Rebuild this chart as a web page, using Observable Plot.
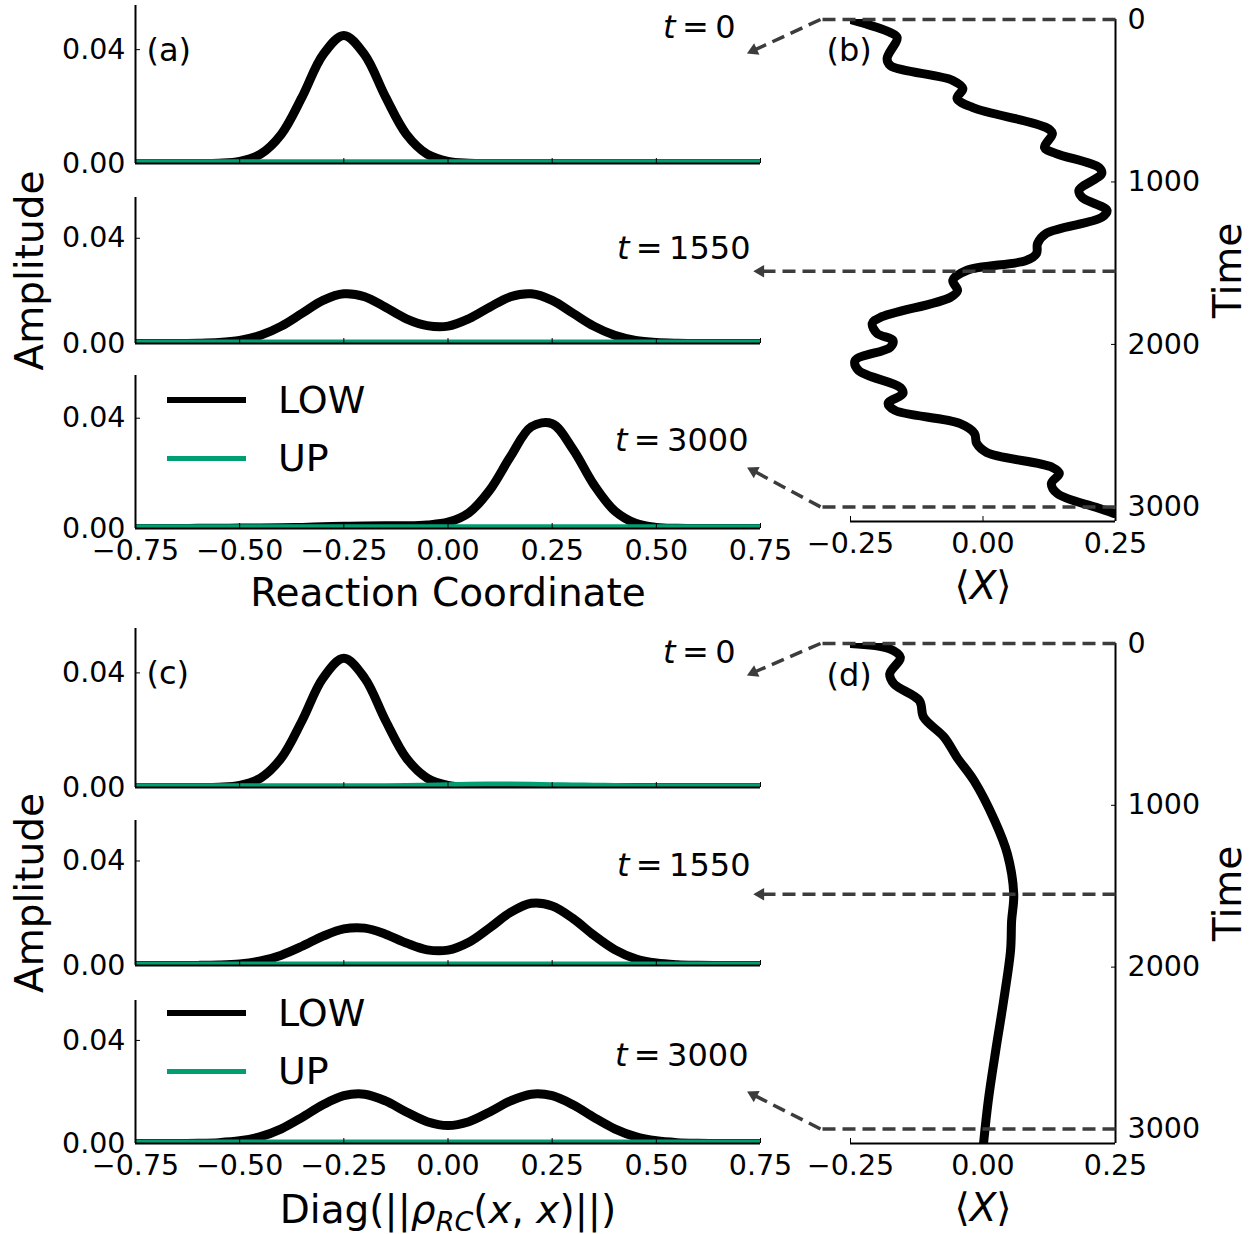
<!DOCTYPE html>
<html>
<head>
<meta charset="utf-8">
<script src="https://cdn.jsdelivr.net/npm/d3@7"></script>
<script src="https://cdn.jsdelivr.net/npm/@observablehq/plot@0.6"></script>
<style>
  body { margin: 0; background: #ffffff; }
  #fig { position: relative; width: 1256px; height: 1234px; overflow: hidden; background: #ffffff; font-family: "DejaVu Sans", sans-serif; }
  .leg-row { position: absolute; left: 167px; height: 50px; display: flex; align-items: center; }
  .leg-sw { display: inline-block; width: 79px; margin-right: 32px; }
  .leg-txt { font-size: 38px; line-height: 50px; color: #000; }
</style>
</head>
<body>
<div id="fig"></div>
<script>
// ---------------- data ----------------
const rc = [-0.75,-0.70,-0.65,-0.60,-0.55,-0.50,-0.45,-0.40,-0.35,-0.30,-0.25,-0.20,-0.15,-0.10,-0.05,0.00,0.05,0.10,0.15,0.20,0.25,0.30,0.35,0.40,0.45,0.50,0.55,0.60,0.65,0.70,0.75];

// panel (a): t = 0, 1550, 3000
const lowA1 = [0,0,0,0.00001,0.00013,0.00076,0.0033,0.0103,0.0234,0.0382,0.0450,0.0382,0.0234,0.0103,0.0033,0.00076,0.00013,0.00001,0,0,0,0,0,0,0,0,0,0,0,0,0];
const upA1  = [0.0006,0.0006,0.0006,0.0006,0.0006,0.0006,0.0006,0.0006,0.0006,0.0006,0.0006,0.0006,0.0006,0.0006,0.0006,0.0006,0.0006,0.0006,0.0006,0.0006,0.0006,0.0006,0.0006,0.0006,0.0006,0.0006,0.0006,0.0006,0.0006,0.0006,0.0006];
const lowA2 = [0,0,0.00002,0.00009,0.00036,0.00117,0.0031,0.0066,0.0115,0.0164,0.0189,0.0178,0.0138,0.0094,0.0068,0.0066,0.0094,0.0138,0.0178,0.0189,0.0164,0.0115,0.0066,0.0031,0.00117,0.00036,0.00009,0.00002,0,0,0];
const upA2  = [0.0006,0.0006,0.0006,0.0006,0.0006,0.0006,0.0006,0.0006,0.0006,0.0006,0.0006,0.0006,0.0006,0.0006,0.0006,0.0006,0.0006,0.0006,0.0006,0.0006,0.0006,0.0006,0.0006,0.0006,0.0006,0.0006,0.0006,0.0006,0.0006,0.0006,0.0006];
const lowA3 = [0,0,0,0.00005,0.0001,0.00015,0.0002,0.0003,0.0004,0.0006,0.0008,0.0009,0.0010,0.0010,0.0013,0.0023,0.0057,0.0139,0.0261,0.0369,0.0380,0.0287,0.0159,0.0064,0.0019,0.0004,0.00007,0.00001,0,0,0];
const upA3  = [0.0006,0.0006,0.0006,0.0006,0.0006,0.0006,0.0006,0.0006,0.0006,0.0006,0.0006,0.0006,0.0006,0.0006,0.0006,0.0006,0.0006,0.0006,0.0006,0.0006,0.0006,0.0006,0.0006,0.0006,0.0006,0.0006,0.0006,0.0006,0.0006,0.0006,0.0006];

// panel (c): t = 0, 1550, 3000
const lowC1 = [0,0,0,0.00001,0.00013,0.00076,0.0033,0.0103,0.0234,0.0382,0.0451,0.0382,0.0234,0.0103,0.0033,0.00076,0.00013,0.00001,0,0,0,0,0,0,0,0,0,0,0,0,0];
const upC1  = [0.0006,0.0006,0.0006,0.0006,0.0006,0.0006,0.0006,0.0006,0.0006,0.0006,0.0006,0.0006,0.0006,0.0007,0.0008,0.0010,0.0011,0.0012,0.0012,0.0011,0.0010,0.0009,0.0008,0.0007,0.0006,0.0006,0.0006,0.0006,0.0006,0.0006,0.0006];
const lowC2 = [0,0,0.00001,0.00004,0.00019,0.00063,0.00174,0.00396,0.00737,0.01122,0.0140,0.0143,0.0120,0.0086,0.0060,0.0059,0.0089,0.0144,0.0203,0.0238,0.0228,0.0180,0.0116,0.0061,0.0026,0.00093,0.00027,0.00006,0.00001,0,0];
const upC2  = [0.0006,0.0006,0.0006,0.0006,0.0006,0.0006,0.0006,0.0006,0.0006,0.0006,0.0006,0.0006,0.0006,0.0006,0.0006,0.0006,0.0006,0.0006,0.0006,0.0006,0.0006,0.0006,0.0006,0.0006,0.0006,0.0006,0.0006,0.0006,0.0006,0.0006,0.0006];
const lowC3 = [0,0,0.00002,0.00009,0.00034,0.00105,0.00268,0.00571,0.01015,0.01503,0.01856,0.01914,0.01653,0.01224,0.00845,0.00695,0.00845,0.01224,0.01653,0.01914,0.01856,0.01503,0.01015,0.00571,0.00268,0.00105,0.00034,0.00009,0.00002,0,0];
const upC3  = [0.0006,0.0006,0.0006,0.0006,0.0006,0.0006,0.0006,0.0006,0.0006,0.0006,0.0006,0.0006,0.0006,0.0006,0.0006,0.0006,0.0006,0.0006,0.0006,0.0006,0.0006,0.0006,0.0006,0.0006,0.0006,0.0006,0.0006,0.0006,0.0006,0.0006,0.0006];

// panel (b): <X> versus time
const bTime = [0,80,111,240,283,375,425,486,542,665,702,788,825,911,948,1052,1095,1175,1218,1317,1378,1440,1483,1545,1606,1668,1711,1834,1871,1932,1975,2018,2098,2160,2265,2302,2363,2406,2486,2548,2609,2665,2757,2794,2855,2917,3003,3040];
const bMean = [-0.250,-0.175,-0.162,-0.181,-0.175,-0.057,-0.038,-0.049,-0.019,0.119,0.131,0.116,0.138,0.219,0.224,0.181,0.187,0.234,0.224,0.119,0.103,0.101,0.082,-0.031,-0.057,-0.048,-0.062,-0.194,-0.209,-0.200,-0.170,-0.175,-0.241,-0.235,-0.156,-0.151,-0.179,-0.166,-0.044,-0.016,-0.012,0.007,0.131,0.144,0.129,0.140,0.213,0.247];

// panel (d): <X> versus time
const dTime = [0,33,85,188,250,353,456,580,704,848,1095,1301,1548,1714,1897,2206,2515,2824,3090];
const dMean = [-0.250,-0.176,-0.156,-0.176,-0.168,-0.120,-0.112,-0.073,-0.049,-0.017,0.022,0.046,0.058,0.054,0.052,0.039,0.024,0.010,0.001];

const snapTimes  = [0, 1550, 3000];
const snapLabels = ["t = 0", "t = 1550", "t = 3000"];
const seriesNames = ["LOW", "UP"];

const ampTicks  = [0, 0.04];
const rcTicks   = [-0.75, -0.50, -0.25, 0, 0.25, 0.50, 0.75];
const timeTicks = [0, 1000, 2000, 3000];
const meanTicks = [-0.25, 0, 0.25];

const rcDomain   = [-0.75, 0.75];
const ampDomain  = [0, 0.0555];
const timeDomain = [0, 3090];
const meanDomain = [-0.25, 0.25];

// ---------------- styles / layout ----------------
const W = 1256, H = 1234;
const seriesColors = ["#000000", "#009E73"];
const dashColor = "#3c3c3c";
const fmt2 = d3.format(".2f");
const fmtInt = d3.format("d");
const svgStyle = {position: "absolute", left: "0px", top: "0px", background: "transparent", overflow: "visible", fontFamily: "DejaVu Sans, sans-serif", color: "black"};

const fig = document.getElementById("fig");

function leftPlot(p) {
  const data = rc.map((x, i) => ({x, low: p.low[i], up: p.up[i]}));
  return Plot.plot({
    width: W, height: H,
    marginLeft: 135, marginRight: W - 760, marginTop: p.top, marginBottom: H - p.bottom,
    x: {domain: rcDomain},
    y: {domain: ampDomain},
    style: svgStyle,
    marks: [
      Plot.line(data, {x: "x", y: "low", stroke: seriesColors[0], strokeWidth: 9, curve: "catmull-rom", clip: true}),
      Plot.line(data, {x: "x", y: "up", stroke: seriesColors[1], strokeWidth: 5, curve: "catmull-rom", clip: true}),
      Plot.ruleX([rcDomain[0]], {stroke: "black", strokeWidth: 2}),
      Plot.ruleY([ampDomain[0]], {stroke: "black", strokeWidth: 2}),
      Plot.axisY(ampTicks, {tickSize: 5, dx: 5, fill: "none", label: null}),
      Plot.axisY(ampTicks, {tickSize: 0, tickPadding: 10, tickFormat: fmt2, fontSize: 28.5, label: null}),
      Plot.axisX(rcTicks, {tickSize: 5, dy: -5, fill: "none", label: null}),
      p.showX ? Plot.axisX(rcTicks, {tickSize: 0, tickPadding: 11, tickFormat: fmt2, fontSize: 28.5, label: null}) : null,
      p.tag ? Plot.text([p.tag], {frameAnchor: "top-left", dx: 11, dy: 45, textAnchor: "start", lineAnchor: "middle", fontSize: 32}) : null,
      p.ylabel ? Plot.text([p.ylabel], {frameAnchor: "left", dx: -105, rotate: -90, textAnchor: "middle", lineAnchor: "middle", fontSize: 39}) : null,
      p.xlabel ? Plot.text([p.xlabel], {frameAnchor: "bottom", dy: p.xlabelDy, textAnchor: "middle", lineAnchor: "middle", fontSize: 39}) : null
    ]
  });
}

function rightPlot(p) {
  const data = p.times.map((t, i) => ({t, m: p.means[i]}));
  const left = 850, right = 1115;
  const kx = (right - left) / (meanDomain[1] - meanDomain[0]);
  const kt = (p.bottom - p.top) / (timeDomain[1] - timeDomain[0]);
  const px2x = (px) => meanDomain[0] + (px - left) / kx;
  const rows = snapTimes.map((t, i) => {
    const g = p.ann[i];
    return {
      t, label: snapLabels[i],
      bend: px2x(g.bendPx), tipX: px2x(g.tipPx), tipT: t + g.tipDy / kt,
      labelX: px2x(g.labelPx), labelT: t + g.labelDy / kt, rot: g.rot
    };
  });
  const dash = {stroke: dashColor, strokeWidth: 3.5, strokeDasharray: "13,7"};
  return Plot.plot({
    width: W, height: H,
    marginLeft: left, marginRight: W - right, marginTop: p.top, marginBottom: H - p.bottom,
    x: {domain: meanDomain},
    y: {domain: timeDomain, reverse: true},
    style: svgStyle,
    marks: [
      Plot.line(data, {x: "m", y: "t", stroke: "black", strokeWidth: 9, curve: "catmull-rom", clip: true}),
      Plot.ruleX([meanDomain[1]], {stroke: "black", strokeWidth: 2}),
      Plot.ruleY([timeDomain[1]], {stroke: "black", strokeWidth: 2}),
      Plot.axisY(timeTicks, {anchor: "right", tickSize: 5, dx: -5, fill: "none", label: null}),
      Plot.axisY(timeTicks, {anchor: "right", tickSize: 0, tickPadding: 12, tickFormat: fmtInt, fontSize: 28.5, label: null}),
      Plot.axisX(meanTicks, {tickSize: 5, dy: -5, fill: "none", label: null}),
      Plot.axisX(meanTicks, {tickSize: 0, tickPadding: 11, tickFormat: fmt2, fontSize: 28.5, label: null}),
      Plot.link(rows, {x1: meanDomain[1], y1: "t", x2: "bend", y2: "t", ...dash}),
      Plot.link(rows.filter((r) => r.bend !== r.tipX), {x1: "bend", y1: "t", x2: "tipX", y2: "tipT", ...dash}),
      Plot.dot(rows, {x: "tipX", y: "tipT", symbol: "triangle2", r: 6, fill: dashColor, rotate: "rot"}),
      Plot.text(rows, {x: "labelX", y: "labelT", text: "label", textAnchor: "end", lineAnchor: "middle", fontSize: 32}),
      Plot.text([p.tag], {frameAnchor: "top-left", dx: -24, dy: p.tagDy, textAnchor: "start", lineAnchor: "middle", fontSize: 32}),
      Plot.text(["Time"], {frameAnchor: "right", dx: 113, rotate: -90, textAnchor: "middle", lineAnchor: "middle", fontSize: 39}),
      Plot.text(["⟨X⟩"], {frameAnchor: "bottom", dy: 65, textAnchor: "middle", lineAnchor: "middle", fontSize: 39})
    ]
  });
}

const leftPanels = [
  {top: 5,    bottom: 163,  low: lowA1, up: upA1, tag: "(a)"},
  {top: 197,  bottom: 343,  low: lowA2, up: upA2, ylabel: "Amplitude"},
  {top: 375,  bottom: 528,  low: lowA3, up: upA3, showX: true, xlabel: "Reaction Coordinate", xlabelDy: 65},
  {top: 628,  bottom: 787,  low: lowC1, up: upC1, tag: "(c)"},
  {top: 820,  bottom: 965,  low: lowC2, up: upC2, ylabel: "Amplitude"},
  {top: 1000, bottom: 1143, low: lowC3, up: upC3, showX: true, xlabel: "Diag(||ρRC(x, x)||)", xlabelDy: 67}
];
leftPanels.forEach((p) => fig.appendChild(leftPlot(p)));

const rightPanels = [
  {top: 19, bottom: 521, times: bTime, means: bMean, tag: "(b)", tagDy: 31,
   ann: [{bendPx: 820, tipPx: 753, tipDy: 31, labelPx: 735, labelDy: 8, rot: -115},
         {bendPx: 760, tipPx: 760, tipDy: 0, labelPx: 750, labelDy: -23, rot: -90},
         {bendPx: 820, tipPx: 753, tipDy: -36, labelPx: 748, labelDy: -66, rot: -62}]},
  {top: 643, bottom: 1143, times: dTime, means: dMean, tag: "(d)", tagDy: 32,
   ann: [{bendPx: 820, tipPx: 753, tipDy: 29, labelPx: 735, labelDy: 9, rot: -115},
         {bendPx: 760, tipPx: 760, tipDy: 0, labelPx: 750, labelDy: -29, rot: -90},
         {bendPx: 820, tipPx: 753, tipDy: -34, labelPx: 748, labelDy: -73, rot: -62}]}
];
rightPanels.forEach((p) => fig.appendChild(rightPlot(p)));

// legends (HTML, drawn over the bottom sub-panels)
function addLegend(centers) {
  seriesNames.forEach((name, i) => {
    const row = document.createElement("div");
    row.className = "leg-row";
    row.style.top = (centers[i] - 25) + "px";
    const sw = document.createElement("span");
    sw.className = "leg-sw";
    sw.style.height = (i === 0 ? 6 : 5) + "px";
    sw.style.background = seriesColors[i];
    const tx = document.createElement("span");
    tx.className = "leg-txt";
    tx.textContent = name;
    row.appendChild(sw);
    row.appendChild(tx);
    fig.appendChild(row);
  });
}
addLegend([400, 458]);
addLegend([1013, 1071]);

// math-style text (italic symbols, subscript, tight spacing around "=")
const it = (s) => `<tspan font-style="italic">${s}</tspan>`;
const th = "\u2009";
const markup = {
  "t = 0": `${it("t")}${th}=${th}0`,
  "t = 1550": `${it("t")}${th}=${th}1550`,
  "t = 3000": `${it("t")}${th}=${th}3000`,
  "⟨X⟩": `⟨${it("X")}⟩`,
  "Diag(||ρRC(x, x)||)": `Diag(||${it("ρ")}<tspan font-style="italic" font-size="27" dy="8">RC</tspan><tspan dy="-8">(</tspan>${it("x")}, ${it("x")})||)`
};
fig.querySelectorAll("text, tspan").forEach((el) => {
  if (el.children.length) return;
  const m = markup[el.textContent];
  if (m) el.innerHTML = m;
});
</script>
</body>
</html>
